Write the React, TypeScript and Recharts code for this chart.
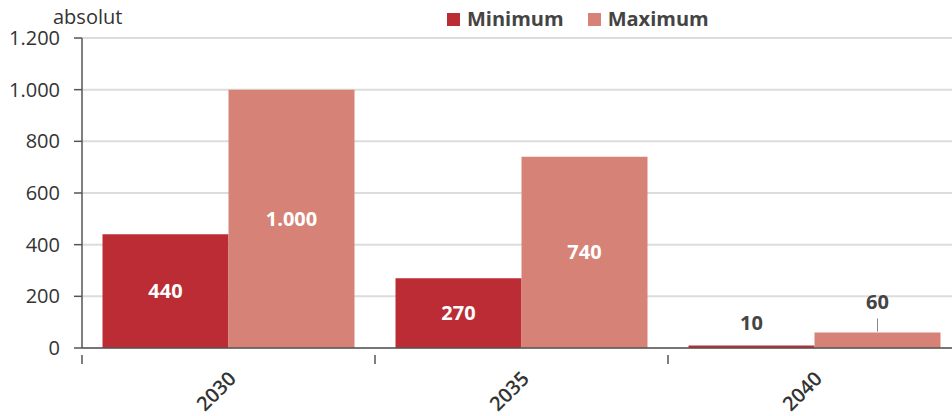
import React from 'react';
import { BarChart, Bar, XAxis, YAxis, CartesianGrid, LabelList } from 'recharts';

const categories = ['2030', '2035', '2040'];
const minValues = [440, 270, 10];
const maxValues = [1000, 740, 60];
const yTicks = [0, 200, 400, 600, 800, 1000, 1200];
const seriesNames = ['Minimum', 'Maximum'];
const colors = ['#bb2c34', '#d68276'];

const data = categories.map((c, i) => ({ year: c, min: minValues[i], max: maxValues[i] }));

const fmt = (v: number) => String(v).replace(/\B(?=(\d{3})+(?!\d))/g, '.');

const FONT = '"Open Sans", sans-serif';

const makeLabel = (leader: boolean) => (props: any) => {
  const { x, y, width, height, value } = props;
  const cx = x + width / 2;
  if (height > 40) {
    return (
      <text x={cx} y={y + height / 2} dy={7} textAnchor="middle" fill="#fff" fontFamily={FONT} fontWeight={700} fontSize={20}>
        {fmt(value)}
      </text>
    );
  }
  if (leader) {
    return (
      <g>
        <line x1={cx} x2={cx} y1={y - 1} y2={y - 14} stroke="#888" strokeWidth={1} />
        <text x={cx} y={y - 31} dy={7} textAnchor="middle" fill="#444" fontFamily={FONT} fontWeight={700} fontSize={20}>
          {fmt(value)}
        </text>
      </g>
    );
  }
  return (
    <text x={cx} y={y - 22} dy={7} textAnchor="middle" fill="#444" fontFamily={FONT} fontWeight={700} fontSize={20}>
      {fmt(value)}
    </text>
  );
};

const XTick = (props: any) => {
  const { x, y, payload } = props;
  const off = payload.offset || 0;
  const lx = x + 4;
  const ly = y + 19;
  return (
    <g>
      <line x1={x - off} x2={x - off} y1={y - 1} y2={y + 8} stroke="#555" strokeWidth={1.5} />
      <text
        x={lx}
        y={ly}
        textAnchor="end"
        fill="#333"
        fontFamily={FONT}
        fontWeight={600}
        fontSize={20}
        transform={`rotate(-45 ${lx} ${ly})`}
        dy={7}
      >
        {payload.value}
      </text>
    </g>
  );
};

export default function App() {
  return (
    <div style={{ position: 'absolute', left: 0, top: 0, width: 952, height: 416, overflow: 'hidden', background: '#fff' }}>
      <div style={{ position: 'absolute', left: 53, top: 3, fontFamily: FONT, fontSize: 20, color: '#333', lineHeight: '28px' }}>absolut</div>
      <div style={{ position: 'absolute', left: 447, top: 5, display: 'flex', alignItems: 'center', fontFamily: FONT, fontWeight: 700, fontSize: 20, color: '#444', lineHeight: '28px' }}>
        {seriesNames.map((n, i) => (
          <div key={n} style={{ display: 'flex', alignItems: 'center', marginRight: 24 }}>
            <span style={{ display: 'inline-block', width: 13, height: 13, background: colors[i], marginRight: 7 }} />
            <span>{n}</span>
          </div>
        ))}
      </div>
      <div style={{ position: 'absolute', left: 0, top: 0 }}>
        <BarChart
          width={970}
          height={416}
          data={data}
          margin={{ top: 38, right: 9, bottom: 0, left: 0 }}
          barCategoryGap="7%"
          barGap={0}
        >
          <CartesianGrid vertical={false} stroke="#dcdcdc" strokeWidth={2} />
          <XAxis
            dataKey="year"
            height={68}
            axisLine={{ stroke: '#555', strokeWidth: 1.5 }}
            tickLine={false}
            tick={<XTick />}
            interval={0}
          />
          <YAxis
            width={82}
            domain={[0, 1200]}
            ticks={yTicks}
            interval={0}
            tickFormatter={fmt}
            axisLine={{ stroke: '#555', strokeWidth: 1.5 }}
            tickLine={{ stroke: '#555', strokeWidth: 1.5 }}
            tickSize={8}
            tickMargin={14}
            tick={{ fill: '#333', fontFamily: FONT, fontSize: 20 }}
          />
          <Bar dataKey="min" name={seriesNames[0]} fill={colors[0]} isAnimationActive={false}>
            <LabelList dataKey="min" content={makeLabel(false)} />
          </Bar>
          <Bar dataKey="max" name={seriesNames[1]} fill={colors[1]} isAnimationActive={false}>
            <LabelList dataKey="max" content={makeLabel(true)} />
          </Bar>
        </BarChart>
      </div>
    </div>
  );
}
